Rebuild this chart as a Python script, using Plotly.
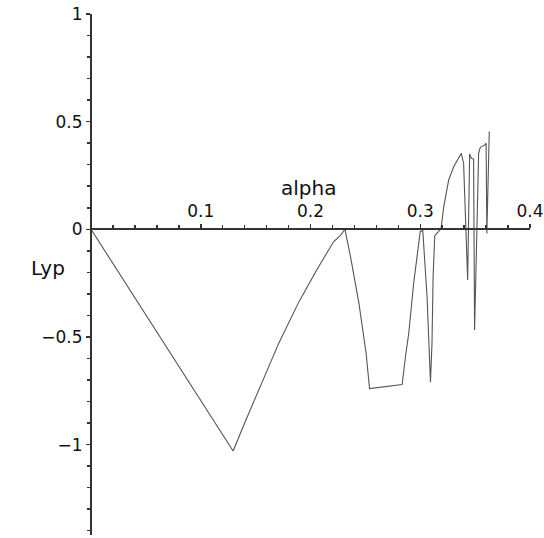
import plotly.graph_objects as go

# Data
alpha = [0.0, 0.06, 0.1295, 0.14, 0.1532, 0.171, 0.1895, 0.2055, 0.221, 0.2275, 0.2314,
         0.2365, 0.2441, 0.2507, 0.2538, 0.2835, 0.2865, 0.2895, 0.294, 0.300,
         0.3023, 0.3062, 0.3093, 0.3107, 0.3117, 0.3132, 0.3168, 0.319,
         0.3214, 0.3259, 0.3305, 0.3374, 0.3395, 0.3432, 0.345, 0.3465, 0.3486,
         0.3495, 0.3532, 0.3547, 0.359, 0.360, 0.3607, 0.3629]
lyp = [0.0, -0.477, -1.03, -0.90, -0.74, -0.53, -0.336, -0.19, -0.058, -0.027, 0.0,
       -0.128, -0.343, -0.577, -0.74, -0.721, -0.593, -0.484, -0.251, -0.01,
       -0.005, -0.313, -0.709, -0.53, -0.22, -0.03, -0.01, 0.005,
       0.105, 0.229, 0.291, 0.353, 0.307, -0.236, 0.35, 0.33, 0.326,
       -0.468, 0.353, 0.381, 0.392, 0.40, -0.02, 0.454]

x_ticks = [0.1, 0.2, 0.3, 0.4]
x_tick_labels = ["0.1", "0.2", "0.3", "0.4"]
y_ticks = [-1, -0.5, 0, 0.5, 1]
y_tick_labels = ["\u22121", "\u22120.5", "0", "0.5", "1"]

x_range = [0, 0.4]
y_range = [-1.42, 1.0]

fam = "DejaVu Sans, Liberation Sans, Arial, sans-serif"
tick_font = dict(family=fam, size=17, color="#111")
label_font = dict(family=fam, size=20, color="#111")

fig = go.Figure()
fig.add_trace(go.Scatter(x=alpha, y=lyp, mode="lines",
                         line=dict(color="#555555", width=1.1),
                         hoverinfo="skip", showlegend=False, cliponaxis=False))

x_pos = (0 - y_range[0]) / (y_range[1] - y_range[0])
y_pos = (0 - x_range[0]) / (x_range[1] - x_range[0])

fig.update_layout(
    width=544, height=538,
    margin=dict(l=91, r=14, t=14, b=3, autoexpand=False),
    paper_bgcolor="white", plot_bgcolor="white",
    font=tick_font,
    xaxis=dict(range=x_range, side="top", anchor="free", position=x_pos,
               automargin=False, ticklabeloverflow="allow",
               showgrid=False, zeroline=False, showline=True,
               linecolor="#333", linewidth=2,
               tickvals=x_ticks, ticktext=x_tick_labels,
               ticks="outside", ticklen=4, tickwidth=1.5, tickcolor="#333",
               minor=dict(dtick=0.02, ticks="outside", ticklen=3, tickwidth=1.5,
                          tickcolor="#333", showgrid=False),
               tickfont=tick_font),
    yaxis=dict(range=y_range, side="left", anchor="free", position=y_pos,
               automargin=False, ticklabeloverflow="allow",
               showgrid=False, zeroline=False, showline=True,
               linecolor="#333", linewidth=2,
               tickvals=y_ticks, ticktext=y_tick_labels,
               ticks="outside", ticklen=4, tickwidth=1.5, tickcolor="#333",
               minor=dict(dtick=0.1, ticks="outside", ticklen=3, tickwidth=1.5,
                          tickcolor="#333", showgrid=False),
               tickfont=tick_font),
    annotations=[
        dict(text="alpha", x=0.2, y=0.0, xref="x", yref="y",
             xanchor="center", yanchor="middle", xshift=-2, yshift=41,
             showarrow=False, font=label_font),
        dict(text="Lyp", x=0.0, y=-0.18, xref="x", yref="y",
             xanchor="right", yanchor="middle", xshift=-24, showarrow=False,
             font=label_font),
    ],
)

fig.write_html("out.html",
               config=dict(displayModeBar=False, staticPlot=True),
               post_script="document.body.style.margin='0';"
                           "document.body.style.overflow='hidden';")
